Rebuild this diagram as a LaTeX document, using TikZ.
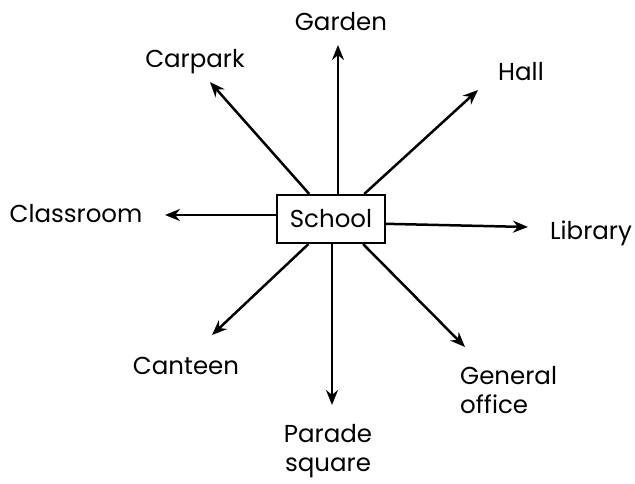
\documentclass[tikz,border=0pt]{standalone}
\usepackage{fontspec}
\setmainfont{Poppins}
\usetikzlibrary{arrows.meta}
\begin{document}
\begin{tikzpicture}[x=1pt,y=-1pt,
  lbl/.style={font=\fontsize{24.5}{29}\selectfont, inner sep=0pt},
  arr/.style={line width=2.5pt, -{Stealth[length=15pt,width=12pt]}},
  box/.style={draw, line width=2.2pt, minimum width=108pt, minimum height=48pt, inner sep=0pt}]
\useasboundingbox (0,0) rectangle (635,484);
\node[box, lbl] (school) at (331,219) {School};
% tips
\coordinate (gtip) at (338,45);
\coordinate (ctip) at (210,82);
\coordinate (htip) at (478,90);
\coordinate (cltip) at (165,215);
\coordinate (ltip) at (528,227);
\coordinate (cntip) at (212,335);
\coordinate (gotip) at (465,347);
\coordinate (ptip) at (332,405);
% labels
\node[lbl] (garden) at (341,22) {Garden};
\node[lbl] (carpark) at (195,62) {Carpark};
\node[lbl] (hall) at (521,72) {Hall};
\node[lbl] (classroom) at (76,214) {Classroom};
\node[lbl] (library) at (591,233) {Library};
\node[lbl] (canteen) at (186,366) {Canteen};
\node[lbl, align=left, anchor=west] (office) at (460,390) {General\\office};
\node[lbl, align=center] (parade) at (328,451) {Parade\\square};
% arrows
\draw[arr] (school.north -| gtip) -- (gtip);
\draw[arr] (school.131) -- (ctip);
\draw[arr] (school.37.7) -- (htip);
\draw[arr] (school.west |- cltip) -- (cltip);
\draw[arr] (school.-5) -- (ltip);
\draw[arr] (school.228.8) -- (cntip);
\draw[arr] (school.322.3) -- (gotip);
\draw[arr] (school.south -| ptip) -- (ptip);
\end{tikzpicture}
\end{document}
